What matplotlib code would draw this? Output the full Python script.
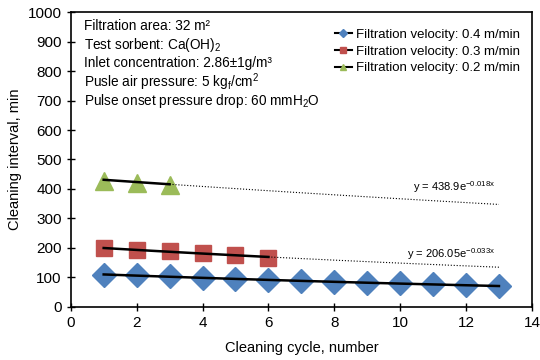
import numpy as np
import matplotlib
matplotlib.use("Agg")
import matplotlib.pyplot as plt
from matplotlib.lines import Line2D

# cleaning interval (min) per cleaning cycle, one series per filtration velocity
cycles_04 = [1, 2, 3, 4, 5, 6, 7, 8, 9, 10, 11, 12, 13]
interval_04 = [107, 107, 103, 99, 94, 91, 86, 85, 82, 80, 76, 73, 69]
cycles_03 = [1, 2, 3, 4, 5, 6]
interval_03 = [198, 192, 188, 182, 175, 167]
cycles_02 = [1, 2, 3]
interval_02 = [427, 421, 413]

# exponential trend lines y = a * exp(b * x)
fit_03 = (206.05, -0.033)
fit_02 = (438.9, -0.018)

labels = ["Filtration velocity: 0.4 m/min",
          "Filtration velocity: 0.3 m/min",
          "Filtration velocity: 0.2 m/min"]
colors = ["#4F81BD", "#C0504D", "#9BBB59"]

plt.rcParams['font.family'] = ['Liberation Sans', 'DejaVu Sans']
plt.rcParams['mathtext.fontset'] = 'custom'
plt.rcParams['mathtext.rm'] = 'Liberation Sans'
plt.rcParams['mathtext.it'] = 'Liberation Sans'
plt.rcParams['mathtext.bf'] = 'Liberation Sans:bold'

fig = plt.figure(figsize=(5.4, 3.6), dpi=100)
ax = fig.add_axes([0.131, 0.148, 0.854, 0.818])

# blue series: fitted exponential drawn solid over the data
x4 = np.array(cycles_04)
b4, lna4 = np.polyfit(x4, np.log(interval_04), 1)
ax.plot(x4, interval_04, 'D', color=colors[0], ms=12, zorder=2)
ax.plot(x4, np.exp(lna4) * np.exp(b4 * x4), '-', color='black', lw=1.8, zorder=3)

# red and green: solid fit over data range, dotted extension to cycle 13
for xs, ys, fit, mk, c, ms in [(cycles_03, interval_03, fit_03, 's', colors[1], 12),
                                (cycles_02, interval_02, fit_02, '^', colors[2], 13)]:
    xs = np.array(xs)
    ax.plot(xs, ys, mk, color=c, ms=ms, zorder=2)
    xr = np.linspace(xs[0], xs[-1], 50)
    ax.plot(xr, fit[0] * np.exp(fit[1] * xr), '-', color='black', lw=1.8, zorder=3)
    xd = np.linspace(xs[-1], 13, 50)
    ax.plot(xd, fit[0] * np.exp(fit[1] * xd), ':', color='black', lw=0.8, zorder=3)

ax.text(12.9, fit_02[0] * np.exp(fit_02[1] * 12.9) + 30,
        r"y = 438.9e$^{-0.018x}$", ha='right', va='bottom', fontsize=8)
ax.text(12.9, fit_03[0] * np.exp(fit_03[1] * 12.9) + 18,
        r"y = 206.05e$^{-0.033x}$", ha='right', va='bottom', fontsize=8)

notes = ["Filtration area: 32 m²",
         "Test sorbent: Ca(OH)$_2$",
         "Inlet concentration: 2.86±1g/m³",
         "Pusle air pressure: 5 kg$_f$/cm$^2$",
         "Pulse onset pressure drop: 60 mmH$_2$O"]
for i, s in enumerate(notes):
    ax.text(0.4, 952 - i * 63, s, ha='left', va='center', fontsize=9.8)

handles = [Line2D([], [], color='black', lw=1.5, marker=m, markersize=ms,
                  markerfacecolor=c, markeredgecolor=c)
           for m, c, ms in zip(['D', 's', '^'], colors, [4, 5, 5])]
ax.legend(handles, labels, loc='upper right', frameon=False, fontsize=9.5,
          handlelength=1.3, handletextpad=0.3, labelspacing=0.35,
          bbox_to_anchor=(1.0, 0.985))

ax.set_xlim(0, 14)
ax.set_ylim(0, 1000)
ax.set_xticks(range(0, 15, 2))
ax.set_yticks(range(0, 1001, 100))
ax.tick_params(direction='inout', length=6, width=1, labelsize=11)
for sp in ax.spines.values():
    sp.set_linewidth(1.2)
ax.set_xlabel("Cleaning cycle, number", fontsize=10.5, labelpad=8)
ax.set_ylabel("Cleaning interval, min", fontsize=10.5, labelpad=4)

fig.savefig("out.png", dpi=100)
